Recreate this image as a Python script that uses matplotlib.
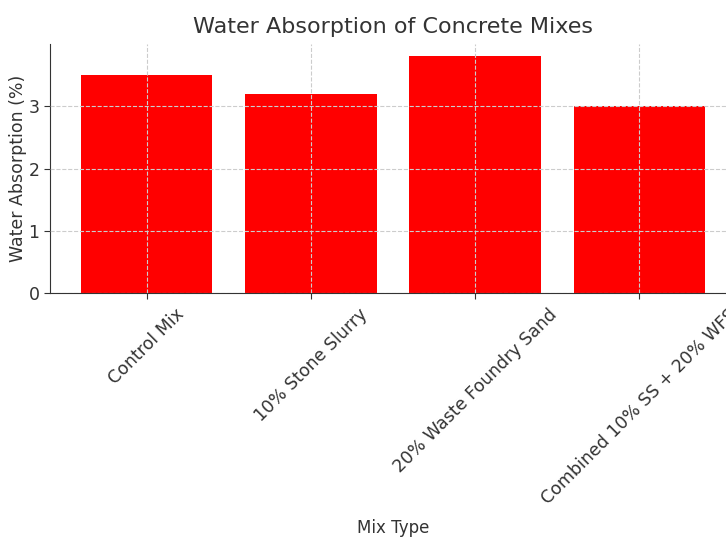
import matplotlib
matplotlib.use("Agg")
import matplotlib.pyplot as plt

mixes = ["Control Mix", "10% Stone Slurry", "20% Waste Foundry Sand",
         "Combined 10% SS + 20% WFS"]
absorption = [3.5, 3.2, 3.8, 3.0]

txt = "#333333"
fig = plt.figure(figsize=(7.26, 5.39), dpi=100)
ax = fig.add_axes([50 / 726, 1 - 293 / 539, 686 / 726, 249 / 539])

ax.bar(mixes, absorption, width=0.8, color="red", zorder=2)
ax.set_ylim(0, 4.0)
ax.set_xlim(-0.59, 3.59)
ax.grid(True, linestyle="--", color="#cccccc", linewidth=0.8, zorder=0)
ax.set_axisbelow(False)
for sp in ["top", "right"]:
    ax.spines[sp].set_visible(False)
ax.spines["left"].set_color(txt)
ax.spines["bottom"].set_color(txt)

ax.set_yticks([0, 1, 2, 3])
ax.tick_params(colors=txt, labelsize=12.5, length=4)
ax.tick_params(axis="x", pad=5)
plt.setp(ax.get_xticklabels(), rotation=45, ha="center", color=txt)

ax.set_title("Water Absorption of Concrete Mixes", fontsize=16, color=txt, pad=8)
ax.set_xlabel("Mix Type", fontsize=12, color=txt, labelpad=8)
ax.set_ylabel("Water Absorption (%)", fontsize=12.5, color=txt, labelpad=1)

fig.savefig("out.png", dpi=100)
